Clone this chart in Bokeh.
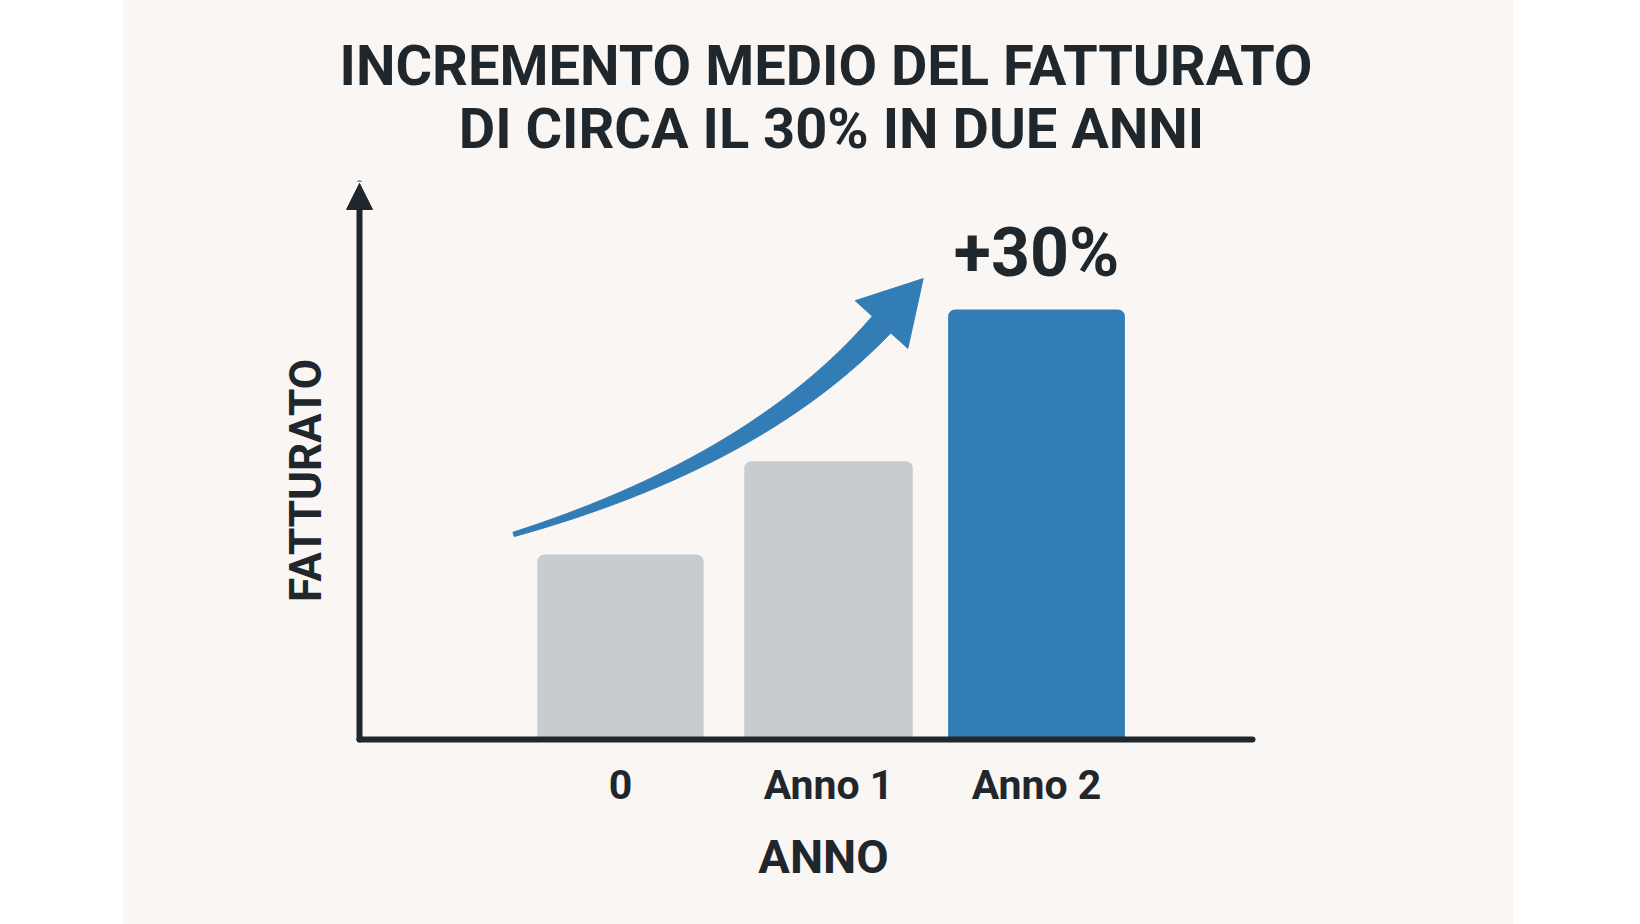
import numpy as np
from bokeh.plotting import figure
from bokeh.models import (Range1d, LinearAxis, FixedTicker, Label, Arrow, NormalHead,
                          Spacer, ColumnDataSource)
from bokeh.layouts import row
from bokeh.embed import file_html
from bokeh.resources import INLINE

# ---------------- data ----------------
categories = ["0", "Anno 1", "Anno 2"]
fatturato = [43.0, 64.7, 100.0]
highlight = [False, False, True]
title_lines = ["INCREMENTO MEDIO DEL FATTURATO", "DI CIRCA IL 30% IN DUE ANNI"]
growth_label = "+30%"
x_title = "ANNO"
y_title = "FATTURATO"

# ---------------- style / layout ----------------
BG = "#FAF6F3"
DARK = "#1F272D"
GREY = "#C9CCCF"
BLUE = "#337DB7"
bar_widths = [0.80, 0.81, 0.85]

PAGE_LEFT = 123            # left edge of the chart panel on the page
FIG_W, FIG_H = 1390, 924
ORIGIN_PX, ORIGIN_PY = 620, 739   # page pixel where x=0 / y=0 fall
SX, SY = 208.0, 4.3               # pixels per data unit

def dx(px):   # page x pixel -> data x
    return (px - ORIGIN_PX) / SX

def dy(py):   # page y pixel -> data y
    return (ORIGIN_PY - py) / SY

X_START, X_END = dx(PAGE_LEFT), dx(PAGE_LEFT + FIG_W)
Y_START, Y_END = dy(FIG_H), dy(0)
AXIS_X = dx(359)          # position of the value axis
AXIS_X_END = dx(1252)     # end of the category axis line

p = figure(width=FIG_W, height=FIG_H,
           x_range=Range1d(X_START, X_END), y_range=Range1d(Y_START, Y_END),
           output_backend="svg", toolbar_location=None,
           x_axis_location=None, y_axis_location=None,
           min_border=0, min_border_left=0, min_border_right=0,
           min_border_top=0, min_border_bottom=0)
p.title.visible = False
p.background_fill_color = BG
p.border_fill_color = BG
p.outline_line_color = None
p.grid.visible = False

# category axis
xaxis = LinearAxis(ticker=FixedTicker(ticks=list(range(len(categories)))),
                   major_label_overrides={i: c for i, c in enumerate(categories)},
                   fixed_location=0, bounds=(AXIS_X, AXIS_X_END))
xaxis.axis_line_color = DARK
xaxis.axis_line_width = 6
xaxis.axis_line_cap = "round"
xaxis.major_tick_line_color = None
xaxis.minor_tick_line_color = None
xaxis.major_tick_out = 0
xaxis.major_tick_in = 0
xaxis.major_label_text_font = "Roboto"
xaxis.major_label_text_font_style = "bold"
xaxis.major_label_text_font_size = "41px"
xaxis.major_label_text_color = DARK
xaxis.major_label_standoff = 21
p.add_layout(xaxis, "below")

# value axis: only its title (line drawn as an arrow below)
yaxis = LinearAxis(ticker=FixedTicker(ticks=[]), axis_label=y_title,
                   fixed_location=AXIS_X, bounds=(0, dy(221)))
yaxis.axis_line_color = None
yaxis.major_tick_line_color = None
yaxis.minor_tick_line_color = None
yaxis.major_tick_out = 0
yaxis.major_label_standoff = 0
yaxis.major_label_text_font_size = "0px"
yaxis.axis_label_text_font = "Roboto"
yaxis.axis_label_text_font_style = "bold"
yaxis.axis_label_text_font_size = "44px"
yaxis.axis_label_text_color = DARK
yaxis.axis_label_standoff = 28
p.add_layout(yaxis, "left")

p.add_layout(Arrow(end=NormalHead(size=26, fill_color=DARK, line_color=DARK, line_width=1),
                   x_start=AXIS_X, y_start=0, x_end=AXIS_X, y_end=dy(183),
                   line_color=DARK, line_width=6, line_cap="round"))

# bars
src = ColumnDataSource(dict(
    x=list(range(len(categories))),
    top=fatturato,
    w=bar_widths,
    color=[BLUE if h else GREY for h in highlight],
))
p.vbar(x="x", top="top", bottom=0, width="w", source=src,
       fill_color="color", line_color=None, border_radius=(7, 7, 0, 0))

# curved growth arrow (tapered), anchored to bar 0 and bar 2
def px(x, y):
    return np.array([x * SX, y * SY])

P0 = px(0 - 0.514, fatturato[0] + 4.7)
P1 = px(1 - 0.341, fatturato[1] + 0.0)
P2 = px(2 - 0.745, fatturato[2] - 3.5)
t = np.linspace(0, 1, 80)[:, None]
B = (1 - t) ** 2 * P0 + 2 * t * (1 - t) * P1 + t ** 2 * P2
D = 2 * (1 - t) * (P1 - P0) + 2 * t * (P2 - P1)
D = D / np.linalg.norm(D, axis=1)[:, None]
N = np.column_stack([-D[:, 1], D[:, 0]])
h = (4.5 + 20.5 * t) / 2
upper = B + h * N
lower = B - h * N
d_end, n_end = D[-1], N[-1]
tip = P2 + 62 * d_end
wing_u = P2 + 35.5 * n_end
wing_l = P2 - 35.5 * n_end
poly = np.vstack([upper, wing_u, tip, wing_l, lower[::-1]])
p.patch(poly[:, 0] / SX, poly[:, 1] / SY, fill_color=BLUE, line_color=BLUE,
        line_width=1, line_join="round")

# growth label above the highlighted bar
p.add_layout(Label(x=2, y=fatturato[2], y_offset=57, text=growth_label,
                   text_font="Roboto", text_font_style="bold", text_font_size="68px",
                   text_color=DARK, text_align="center", text_baseline="alphabetic"))

# title lines
p.add_layout(Label(x=dx(825.5), y=dy(65), text=title_lines[0],
                   text_font="Roboto", text_font_style="bold", text_font_size="56px",
                   text_color=DARK, text_align="center", text_baseline="alphabetic"))
p.add_layout(Label(x=dx(831), y=dy(128), text=title_lines[1],
                   text_font="Roboto", text_font_style="bold", text_font_size="56px",
                   text_color=DARK, text_align="center", text_baseline="alphabetic"))

# category axis title
p.add_layout(Label(x=dx(823), y=dy(856), text=x_title,
                   text_font="Roboto", text_font_style="bold", text_font_size="47px",
                   text_color=DARK, text_align="center", text_baseline="alphabetic"))

layout = row(Spacer(width=PAGE_LEFT, height=FIG_H), p)
open("out.html", "w").write(file_html(layout, INLINE))
